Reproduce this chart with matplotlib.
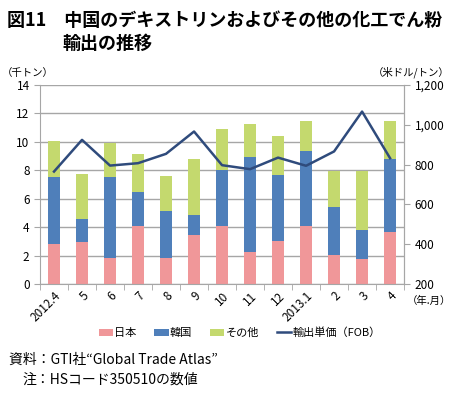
import numpy as np
import matplotlib
matplotlib.use("Agg")
import matplotlib.pyplot as plt

plt.rcParams['font.family'] = ['Noto Sans CJK JP', 'DejaVu Sans']

months = ['2012.4', '5', '6', '7', '8', '9', '10', '11', '12', '2013.1', '2', '3', '4']
japan = [2.83, 2.97, 1.87, 4.05, 1.87, 3.47, 4.12, 2.27, 3.02, 4.12, 2.08, 1.78, 3.68]
korea = [4.67, 1.60, 5.69, 2.44, 3.28, 1.42, 3.87, 6.68, 4.66, 5.20, 3.31, 2.04, 5.13]
other = [2.57, 3.18, 2.39, 2.67, 2.46, 3.87, 2.90, 2.29, 2.72, 2.16, 2.55, 4.12, 2.67]
price = [765, 924, 795, 807, 854, 966, 797, 777, 835, 794, 866, 1066, 832]

c_jp = '#F09799'
c_kr = '#4F7FBA'
c_ot = '#C4D96E'
c_line = '#2F4B7C'
c_grid = '#A6A6A6'

fig = plt.figure(figsize=(4.52, 3.93), dpi=100)
ax = fig.add_axes([0.0885, 0.277, 0.8055, 0.507])
x = np.arange(len(months))
w = 0.4
jp = np.array(japan)
kr = np.array(korea)
ot = np.array(other)
b1 = ax.bar(x, jp, w, color=c_jp, label='日本', zorder=2)
b2 = ax.bar(x, kr, w, bottom=jp, color=c_kr, label='韓国', zorder=2)
b3 = ax.bar(x, ot, w, bottom=jp + kr, color=c_ot, label='その他', zorder=2)

ax.set_xlim(-0.5, len(months) - 0.5)
ax.set_ylim(0, 14)
ax.set_yticks(range(0, 15, 2))
ax.yaxis.grid(True, color=c_grid, linewidth=1.0, zorder=0)
ax.set_axisbelow(True)
ax.set_xticks(x)
ax.set_xticklabels(months, rotation=45, ha='right', rotation_mode='anchor', fontsize=8.5)
ax.set_xticks(np.arange(-0.5, len(months), 1), minor=True)
ax.tick_params(axis='x', which='major', length=0, pad=4)
ax.tick_params(axis='x', which='minor', length=4, color=c_grid)
ax.tick_params(axis='y', labelsize=8.5, length=4, color=c_grid)
ax.spines['top'].set_visible(False)
for s in ['left', 'bottom', 'right']:
    ax.spines[s].set_color(c_grid)

ax2 = ax.twinx()
ln, = ax2.plot(x, price, color=c_line, linewidth=1.8, label='輸出単価（FOB）', zorder=3)
ax2.set_ylim(200, 1200)
ax2.set_yticks(range(200, 1201, 200))
ax2.set_yticklabels(['200', '400', '600', '800', '1,000', '1,200'])
ax2.tick_params(axis='y', labelsize=8.5, length=4, color=c_grid)
ax2.spines['top'].set_visible(False)
ax2.spines['right'].set_color(c_grid)
ax2.spines['left'].set_visible(False)
ax2.spines['bottom'].set_visible(False)

fig.text(0.015, 0.947, '図11　中国のデキストリンおよびその他の化工でん粉', fontsize=13, fontweight='bold', va='center')
fig.text(0.138, 0.89, '輸出の推移', fontsize=13, fontweight='bold', va='center')
fig.text(0.005, 0.815, '（千トン）', fontsize=7.5, va='center')
fig.text(0.995, 0.815, '（米ドル/トン）', fontsize=7.5, va='center', ha='right')
fig.text(0.9, 0.235, '（年.月）', fontsize=7.5, va='center')

leg = fig.legend(handles=[b1, b2, b3, ln], loc='center', bbox_to_anchor=(0.53, 0.153), ncol=4,
                 frameon=False, fontsize=8, handlelength=1.3, handleheight=0.6,
                 handletextpad=0.1, columnspacing=1.6)

fig.text(0.02, 0.085, '資料：GTI社“Global Trade Atlas”', fontsize=10, va='center')
fig.text(0.05, 0.033, '注：HSコード350510の数値', fontsize=10, va='center')

fig.savefig('out.png', dpi=100)
